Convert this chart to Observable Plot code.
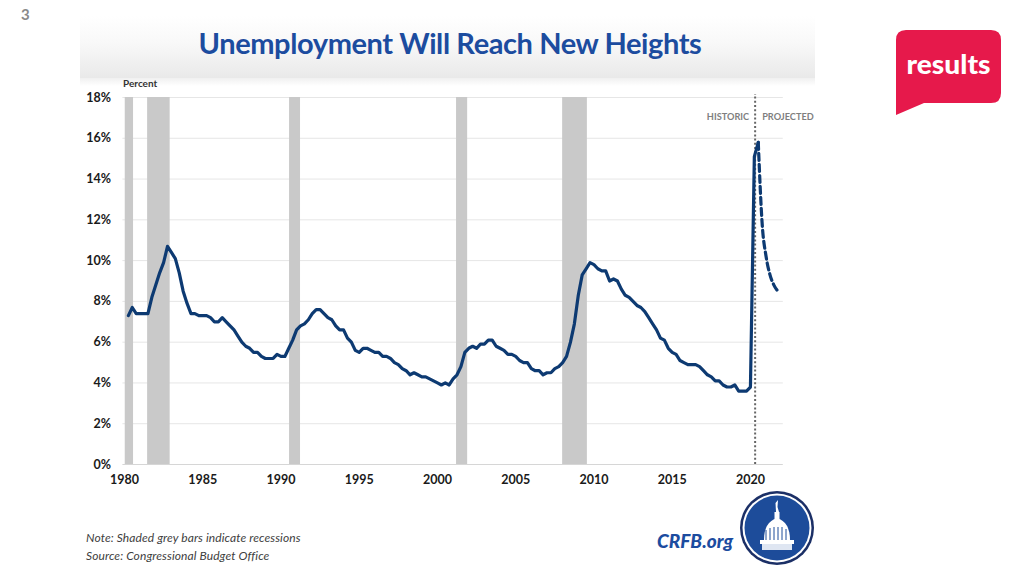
<!DOCTYPE html>
<html>
<head>
<meta charset="utf-8">
<script src="https://cdn.jsdelivr.net/npm/d3@7"></script>
<script src="https://cdn.jsdelivr.net/npm/@observablehq/plot@0.6"></script>
<style>
  body { margin: 0; background: #fff; }
  #page { position: relative; width: 1024px; height: 576px; overflow: hidden; background: #fff; font-family: Lato, "Open Sans", sans-serif; }
  .abs { position: absolute; }
</style>
</head>
<body>
<div id="page">
  <div id="chart" class="abs" style="left:0;top:0"></div>
  <div class="abs" style="left:80px;top:16px;width:735px;height:62px;background:linear-gradient(to bottom,#ffffff 0%,#f8f8f8 45%,#e9e9e9 100%);"></div>
  <div class="abs" style="left:80px;top:78px;width:735px;height:8px;background:linear-gradient(to bottom,#f0f0f0,#ffffff);"></div>
  <div class="abs" style="left:21px;top:5px;font-size:15px;font-weight:700;color:#8a8a8a;">3</div>
  <div id="title" class="abs" style="left:80px;top:25px;width:740px;text-align:center;font-size:29px;font-weight:700;color:#1c4c9f;letter-spacing:-0.4px;">Unemployment Will Reach New Heights</div>
  <div class="abs" style="left:123px;top:77px;font-size:10px;font-weight:700;color:#333;">Percent</div>
  <div class="abs" style="left:86px;top:530px;font-size:12px;font-style:italic;color:#404040;letter-spacing:0.1px;">Note: Shaded grey bars indicate recessions</div>
  <div class="abs" style="left:86px;top:548px;font-size:12px;font-style:italic;color:#404040;letter-spacing:0.1px;">Source: Congressional Budget Office</div>
  <div class="abs" style="left:657px;top:529px;font-size:19px;font-weight:900;font-style:italic;color:#1c4c9f;">CRFB.org</div>
  <svg class="abs" style="left:0;top:0" width="1024" height="576">
    <path d="M906 30 H991 Q1001 30 1001 40 V93 Q1001 103 991 103 H924 L896 115 V40 Q896 30 906 30 Z" fill="#e6194b"/>
    <text x="948.5" y="74" text-anchor="middle" font-family="Lato" font-weight="900" font-size="26" fill="#fff" textLength="84" lengthAdjust="spacingAndGlyphs">results</text>
    <circle cx="777" cy="528" r="37" fill="#1b2f66"/>
    <circle cx="777" cy="528" r="34.5" fill="#ffffff"/>
    <circle cx="777" cy="528" r="32.5" fill="#1d4c9a"/>
    <path d="M775.5 503 L778 500 L777.5 507 L779 512 L776 512 Z" fill="#fff"/>
    <path d="M764 540 Q764 522 777 518 Q790 522 790 540 Z" fill="#fff"/>
    <rect x="774.5" y="512" width="5" height="7" fill="#fff"/>
    <rect x="760" y="540" width="34" height="4" fill="#fff"/>
    <rect x="762" y="544" width="30" height="6" fill="#dfe6f2"/>
    <path d="M766 530 V540 M770 528 V540 M774 527 V540 M778 527 V540 M782 527 V540 M786 529 V540" stroke="#1d4c9a" stroke-width="1"/>
  </svg>
</div>
<script>
// Quarterly unemployment rate (%), historic from 1980Q2 through 2020Q3
const histStartYear = 1980, histStartQuarter = 2;
const histValues = [
  7.3, 7.7, 7.4,
  7.4, 7.4, 7.4, 8.2,
  8.8, 9.4, 9.9, 10.7,
  10.4, 10.1, 9.4, 8.5,
  7.9, 7.4, 7.4, 7.3,
  7.3, 7.3, 7.2, 7.0,
  7.0, 7.2, 7.0, 6.8,
  6.6, 6.3, 6.0, 5.8,
  5.7, 5.5, 5.5, 5.3,
  5.2, 5.2, 5.2, 5.4,
  5.3, 5.3, 5.7, 6.1,
  6.6, 6.8, 6.9, 7.1,
  7.4, 7.6, 7.6, 7.4,
  7.2, 7.1, 6.8, 6.6,
  6.6, 6.2, 6.0, 5.6,
  5.5, 5.7, 5.7, 5.6,
  5.5, 5.5, 5.3, 5.3,
  5.2, 5.0, 4.9, 4.7,
  4.6, 4.4, 4.5, 4.4,
  4.3, 4.3, 4.2, 4.1,
  4.0, 3.9, 4.0, 3.9,
  4.2, 4.4, 4.8, 5.5,
  5.7, 5.8, 5.7, 5.9,
  5.9, 6.1, 6.1, 5.8,
  5.7, 5.6, 5.4, 5.4,
  5.3, 5.1, 5.0, 5.0,
  4.7, 4.6, 4.6, 4.4,
  4.5, 4.5, 4.7, 4.8,
  5.0, 5.3, 6.0, 6.9,
  8.3, 9.3, 9.6, 9.9,
  9.8, 9.6, 9.5, 9.5,
  9.0, 9.1, 9.0, 8.6,
  8.3, 8.2, 8.0, 7.8,
  7.7, 7.5, 7.2, 6.9,
  6.6, 6.2, 6.1, 5.7,
  5.5, 5.4, 5.1, 5.0,
  4.9, 4.9, 4.9, 4.8,
  4.6, 4.4, 4.3, 4.1,
  4.1, 3.9, 3.8, 3.8,
  3.9, 3.6, 3.6, 3.6,
  3.8, 15.1, 15.8
];
// Projected, 2020Q3 through 2021Q4
const projStartYear = 2020, projStartQuarter = 3;
const projValues = [15.8, 11.8, 10.2, 9.3, 8.8, 8.5];

// Recessions (decimal years)
const recessionStart = [1980.05, 1981.48, 1990.55, 2001.22, 2008.0];
const recessionEnd   = [1980.58, 1982.92, 1991.25, 2001.93, 2009.58];

const splitYear = 2020.3;
const yTicks = [0, 2, 4, 6, 8, 10, 12, 14, 16, 18];
const xTicks = [1980, 1985, 1990, 1995, 2000, 2005, 2010, 2015, 2020];

const toSeries = (y0, q0, vals) => vals.map((v, i) => ({x: y0 + (q0 - 1 + i) / 4, y: v}));
const hist = toSeries(histStartYear, histStartQuarter, histValues);
const proj = toSeries(projStartYear, projStartQuarter, projValues);
const recessions = recessionStart.map((s, i) => ({start: s, end: recessionEnd[i]}));

const navy = "#0d3a72";
const chart = Plot.plot({
  width: 1024,
  height: 576,
  marginLeft: 122.4,
  marginRight: 241.2,
  marginTop: 97,
  marginBottom: 112,
  style: {background: "transparent", fontFamily: "Lato, sans-serif", overflow: "visible", color: "#1a1a1a"},
  x: {domain: [1979.9, 2022.1]},
  y: {domain: [0, 18]},
  marks: [
    Plot.ruleY(yTicks.filter(d => d > 0), {stroke: "#e6e6e6", strokeWidth: 1}),
    Plot.rect(recessions, {x1: "start", x2: "end", y1: 0, y2: 18, fill: "#c9c9c9"}),
    Plot.ruleY([0], {stroke: "#d6d6d6", strokeWidth: 1}),
    Plot.ruleX([splitYear], {y1: 0, y2: 18.15, stroke: "#666", strokeWidth: 2, strokeDasharray: "2,2.2"}),
    Plot.line(hist, {x: "x", y: "y", stroke: navy, strokeWidth: 3.2, strokeLinejoin: "round", strokeLinecap: "round"}),
    Plot.line(proj, {x: "x", y: "y", stroke: navy, strokeWidth: 3.2, strokeDasharray: "7,4", curve: "monotone-x"}),
    Plot.text(["HISTORIC"], {x: splitYear, y: 17.02, dx: -6, textAnchor: "end", fill: "#7f7f7f", fontWeight: "bold", fontSize: 9.2}),
    Plot.text(["PROJECTED"], {x: splitYear, y: 17.02, dx: 7, textAnchor: "start", fill: "#7f7f7f", fontWeight: "bold", fontSize: 9.2}),
    Plot.axisY(yTicks, {tickSize: 0, tickPadding: 12, tickFormat: d => d + "%", fontWeight: "bold", fontSize: 12.5, label: null}),
    Plot.axisX(xTicks, {tickSize: 0, tickPadding: 11, tickFormat: d => String(d), fontWeight: "bold", fontSize: 12.5, label: null})
  ]
});
document.getElementById("chart").appendChild(chart);
</script>
</body>
</html>
